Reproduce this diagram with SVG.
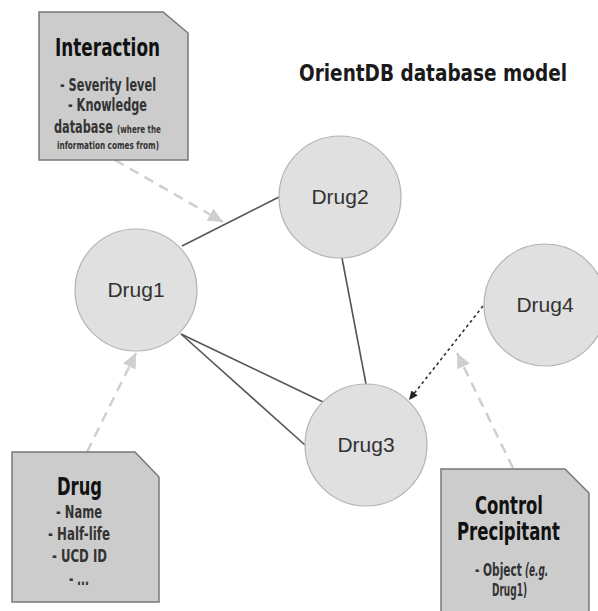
<svg xmlns="http://www.w3.org/2000/svg" width="598" height="611" viewBox="0 0 598 611">
<style>
.bg{fill:#ffffff}
.node circle{fill:#e0e0e0;stroke:#b3b3b3;stroke-width:1.2}
.node text{font-family:"Liberation Sans",Arial,sans-serif;font-size:21px;fill:#333;text-anchor:middle}
.note path{fill:#cccccc;stroke:#777;stroke-width:1.5}
.t{font-family:"DejaVu Sans Condensed","DejaVu Sans",sans-serif;font-stretch:condensed;fill:#1a1a1a}
.h{font-weight:bold;font-size:24px;fill:#111}
.b{font-weight:bold;font-size:18px;fill:#333}
.s{font-weight:bold;font-size:11px;fill:#333}
.edge{stroke:#555;stroke-width:1.6;fill:none}
.ref{stroke:#cfcfcf;stroke-width:2.5;stroke-dasharray:10 7;fill:none}
.dd{stroke:#333;stroke-width:1.6;stroke-dasharray:3 3;fill:none}
</style>
<defs>
<marker id="ga" markerUnits="userSpaceOnUse" markerWidth="16" markerHeight="14" refX="15" refY="7" orient="auto">
<path d="M0,0 L15,7 L0,14 Z" fill="#cfcfcf"/>
</marker>
<marker id="ba" markerUnits="userSpaceOnUse" markerWidth="10" markerHeight="10" refX="9" refY="5" orient="auto">
<path d="M0,1 L9,5 L0,9 Z" fill="#222"/>
</marker>
</defs>
<rect class="bg" x="0" y="0" width="598" height="611"/>
<text class="t" x="433" y="81" text-anchor="middle" font-weight="bold" font-size="23" textLength="268" lengthAdjust="spacingAndGlyphs" fill="#111">OrientDB database model</text>
<g id="connectors">
<line class="edge" x1="182" y1="246" x2="279" y2="197"/>
<line class="edge" x1="342" y1="258" x2="366" y2="384"/>
<line class="edge" x1="181" y1="334" x2="323" y2="402"/>
<line class="edge" x1="181" y1="334" x2="305" y2="445"/>
<line class="dd" x1="483" y1="306" x2="409" y2="400" marker-end="url(#ba)"/>
<line class="ref" x1="115" y1="160" x2="223" y2="222" marker-end="url(#ga)"/>
<line class="ref" x1="87" y1="452" x2="136" y2="353" marker-end="url(#ga)"/>
<line class="ref" x1="513" y1="468" x2="457" y2="353" marker-end="url(#ga)"/>
</g>
<g id="drug1" class="node"><circle cx="136" cy="290" r="61"/><text x="136" y="297">Drug1</text></g>
<g id="drug2" class="node"><circle cx="340" cy="197" r="61"/><text x="340" y="204">Drug2</text></g>
<g id="drug3" class="node"><circle cx="366" cy="445" r="61"/><text x="366" y="452">Drug3</text></g>
<g id="drug4" class="node"><circle cx="545" cy="305" r="61"/><text x="545" y="312">Drug4</text></g>
<g id="interaction" class="note">
<path d="M39,12 L163,12 L188,33 L188,160 L39,160 Z"/>
<text class="t h" x="107.5" y="56" text-anchor="middle" textLength="105" lengthAdjust="spacingAndGlyphs">Interaction</text>
<text class="t b" x="108" y="91" text-anchor="middle" textLength="96" lengthAdjust="spacingAndGlyphs">- Severity level</text>
<text class="t b" x="107.5" y="111" text-anchor="middle" textLength="79" lengthAdjust="spacingAndGlyphs">- Knowledge</text>
<text class="t b" transform="translate(54,133) scale(0.7,1)" x="0" y="0" textLength="84" lengthAdjust="spacingAndGlyphs">database</text>
<text class="t s" transform="translate(117,133) scale(0.72,1)" x="0" y="0" textLength="61" lengthAdjust="spacingAndGlyphs">(where the</text>
<text class="t s" x="108" y="149" text-anchor="middle" textLength="102" lengthAdjust="spacingAndGlyphs">information comes from)</text>
</g>
<g id="drug" class="note">
<path d="M12,452 L135,452 L159,477 L159,602 L12,602 Z"/>
<text class="t h" x="79.5" y="495" text-anchor="middle" textLength="45" lengthAdjust="spacingAndGlyphs">Drug</text>
<text class="t b" x="79" y="518" text-anchor="middle" textLength="46" lengthAdjust="spacingAndGlyphs">- Name</text>
<text class="t b" x="79" y="540" text-anchor="middle" textLength="62" lengthAdjust="spacingAndGlyphs">- Half-life</text>
<text class="t b" x="79.5" y="562" text-anchor="middle" textLength="55" lengthAdjust="spacingAndGlyphs">- UCD ID</text>
<text class="t b" x="79" y="585" text-anchor="middle" textLength="20" lengthAdjust="spacingAndGlyphs">- ...</text>
</g>
<g id="control-precipitant" class="note">
<path d="M441,469 L565,469 L589,493 L589,615 L441,615 Z"/>
<text class="t h" x="509" y="514" text-anchor="middle" textLength="68" lengthAdjust="spacingAndGlyphs">Control</text>
<text class="t h" x="508.5" y="540" text-anchor="middle" textLength="103" lengthAdjust="spacingAndGlyphs">Precipitant</text>
<text class="t b" transform="translate(475,576) scale(0.7,1)" x="0" y="0" font-size="17" textLength="67" lengthAdjust="spacingAndGlyphs">- Object</text>
<text class="t b" transform="translate(525,576) scale(0.75,1)" x="0" y="0" font-size="13" font-style="italic" textLength="31" lengthAdjust="spacingAndGlyphs">(e.g.</text>
<text class="t b" x="509.5" y="596" text-anchor="middle" font-size="13" textLength="35" lengthAdjust="spacingAndGlyphs">Drug1)</text>
</g>
</svg>
